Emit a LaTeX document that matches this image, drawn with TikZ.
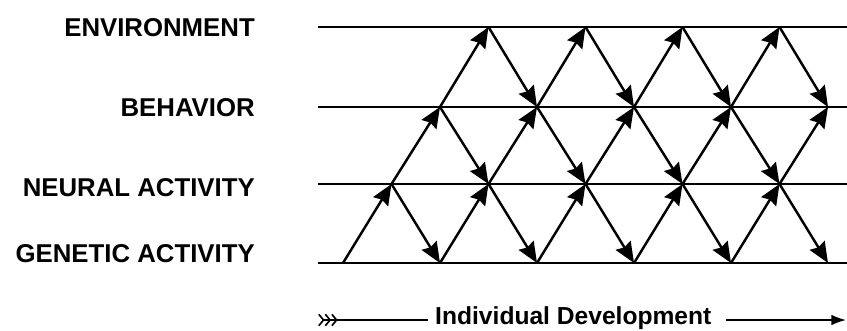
\documentclass[tikz,border=0pt]{standalone}
\usepackage{fontspec}
\setmainfont{Liberation Sans}
\usetikzlibrary{arrows.meta,calc}

\begin{document}
\begin{tikzpicture}[
  x=0.03cm, y=-0.03cm,
  levelline/.style={line width=2.4pt, black},
  influence/.style={line width=2.1pt,
                    -{Stealth[length=6.2mm, width=5.2mm, inset=0.7mm]}},
  levellabel/.style={anchor=east, inner sep=0pt,
                     font=\fontsize{22}{26}\selectfont\bfseries},
  devlabel/.style={anchor=base west, inner sep=0pt,
                   font=\fontsize{21}{25}\selectfont\bfseries},
  devarrow/.style={line width=1.4pt}
]
\useasboundingbox (0,0) rectangle (847,330);

% Level labels
\node[levellabel] (env) at (255,28) {ENVIRONMENT};
\node[levellabel] (beh) at (255,108) {BEHAVIOR};
\node[levellabel] (neu) at (255,188) {NEURAL ACTIVITY};
\node[levellabel] (gen) at (255,254) {GENETIC ACTIVITY};

% Level lines
\coordinate (envL) at (318,27);  \coordinate (envR) at (847,27);
\coordinate (behL) at (318,107); \coordinate (behR) at (847,107);
\coordinate (neuL) at (318,184); \coordinate (neuR) at (847,184);
\coordinate (genL) at (318,263); \coordinate (genR) at (847,263);
\draw[levelline] (envL) -- (envR);
\draw[levelline] (behL) -- (behR);
\draw[levelline] (neuL) -- (neuR);
\draw[levelline] (genL) -- (genR);

% Crossing points on each level
\foreach \k in {0,2,...,10} \coordinate (g\k) at ({343+48.5*\k},263);
\foreach \k in {1,3,...,9}  \coordinate (n\k) at ({343+48.5*\k},184);
\foreach \k in {2,4,...,10} \coordinate (b\k) at ({343+48.5*\k},107);
\foreach \k in {3,5,7,9}    \coordinate (e\k) at ({343+48.5*\k},27);

% Upward influences
\foreach \a/\b in {g0/n1, n1/b2, b2/e3, g2/n3, n3/b4, b4/e5, g4/n5, n5/b6,
                   b6/e7, g6/n7, n7/b8, b8/e9, g8/n9, n9/b10}
  \draw[influence] (\a) -- (\b);

% Downward influences
\foreach \a/\b in {n1/g2, b2/n3, n3/g4, e3/b4, b4/n5, n5/g6, e5/b6, b6/n7,
                   n7/g8, e7/b8, b8/n9, n9/g10, e9/b10}
  \draw[influence] (\a) -- (\b);

% Time axis
\node[devlabel] (dev) at (435,324) {Individual Development};
\coordinate (devL) at (318,320);
\coordinate (devR) at (846,320);
\draw[devarrow, {Straight Barb[reversed, length=1.4mm, width=3.4mm]
                 Straight Barb[reversed, length=1.4mm, width=3.4mm]
                 Straight Barb[reversed, length=1.4mm, width=3.4mm]}-]
  (devL) -- ($(dev.west |- devL)+(-7,0)$);
\draw[devarrow, -{Latex[length=4.4mm, width=3.2mm]}]
  ($(dev.east |- devR)+(14,0)$) -- (devR);

\end{tikzpicture}
\end{document}
